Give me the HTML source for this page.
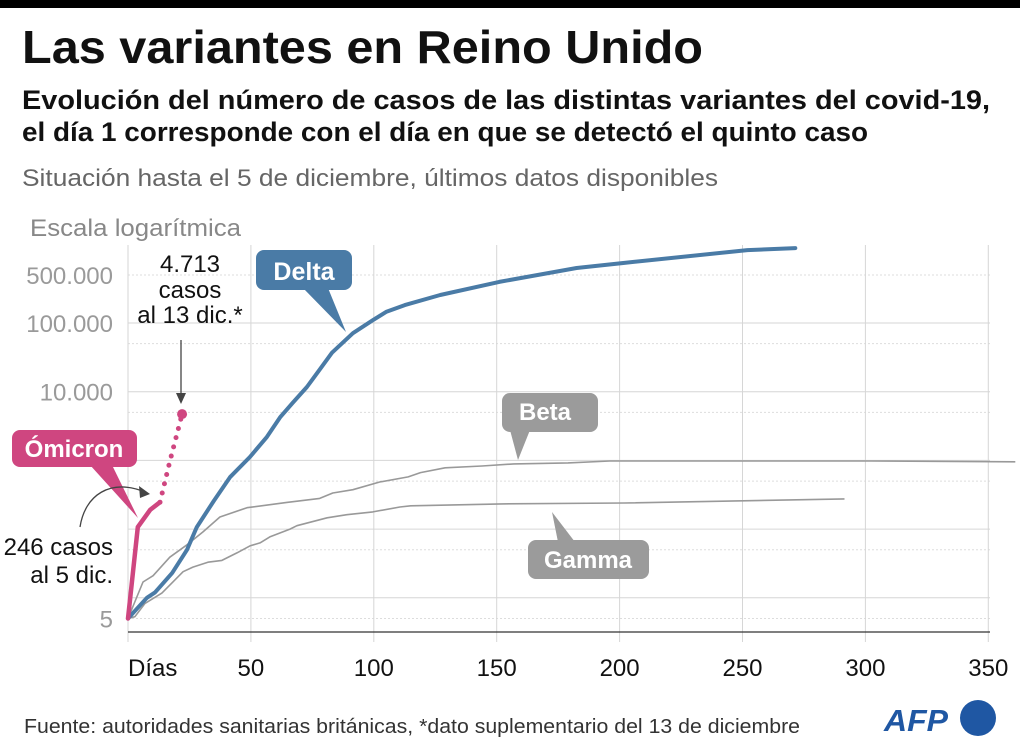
<!DOCTYPE html>
<html><head><meta charset="utf-8"><style>
body{margin:0;background:#fff;}
svg{display:block;font-family:"Liberation Sans",sans-serif;}
</style></head><body>
<svg id="chart" width="1020" height="748" viewBox="0 0 1020 748">
<rect x="0" y="0" width="1020" height="8" fill="#000"/>
<text x="22" y="63" font-size="46" font-weight="bold" fill="#111" textLength="681" lengthAdjust="spacingAndGlyphs">Las variantes en Reino Unido</text>
<text x="22" y="109" font-size="27" font-weight="bold" fill="#111" textLength="968" lengthAdjust="spacingAndGlyphs">Evolución del número de casos de las distintas variantes del covid-19,</text>
<text x="22" y="141" font-size="27" font-weight="bold" fill="#111" textLength="846" lengthAdjust="spacingAndGlyphs">el día 1 corresponde con el día en que se detectó el quinto caso</text>
<text x="22" y="186" font-size="24" fill="#666" textLength="696" lengthAdjust="spacingAndGlyphs">Situación hasta el 5 de diciembre, últimos datos disponibles</text>
<text x="30" y="236" font-size="24" fill="#888" textLength="211" lengthAdjust="spacingAndGlyphs">Escala logarítmica</text>
<g id="grid"></g>
<g id="axes"></g>
<g id="series"></g>
<g id="annotations">
  <rect x="256" y="250" width="96" height="40" rx="8" fill="#4a7ba6"/>
  <polygon points="303,288 328,288 346,332" fill="#4a7ba6"/>
  <text x="304" y="280" font-size="25" font-weight="bold" fill="#fff" text-anchor="middle">Delta</text>
  <rect x="502" y="393" width="96" height="39" rx="8" fill="#9b9b9b"/>
  <polygon points="510,430 530,430 518,460" fill="#9b9b9b"/>
  <text x="545" y="420" font-size="24" font-weight="bold" fill="#fff" text-anchor="middle">Beta</text>
  <rect x="528" y="540" width="121" height="39" rx="8" fill="#9b9b9b"/>
  <polygon points="558,542 575,542 552,512" fill="#9b9b9b"/>
  <text x="588" y="568" font-size="24" font-weight="bold" fill="#fff" text-anchor="middle">Gamma</text>
  <rect x="12" y="430" width="125" height="37" rx="8" fill="#cf4680"/>
  <polygon points="90,465 112,465 138,518" fill="#cf4680"/>
  <text x="74" y="457" font-size="24" font-weight="bold" fill="#fff" text-anchor="middle">Ómicron</text>
  <text x="113" y="555" font-size="24" fill="#111" text-anchor="end">246 casos</text>
  <text x="113" y="583" font-size="24" fill="#111" text-anchor="end">al 5 dic.</text>
  <path d="M80,527 C85,495 110,478 145,492" fill="none" stroke="#444" stroke-width="1.3"/>
  <polygon points="150,494 139,486 140,498" fill="#444"/>
  <text x="190" y="272" font-size="24" fill="#111" text-anchor="middle">4.713</text>
  <text x="190" y="298" font-size="24" fill="#111" text-anchor="middle">casos</text>
  <text x="190" y="323" font-size="24" fill="#111" text-anchor="middle">al 13 dic.*</text>
  <line x1="181" y1="340" x2="181" y2="396" stroke="#444" stroke-width="1.3"/>
  <polygon points="181,404 176,393 186,393" fill="#444"/>
</g>
<text x="24" y="733" font-size="20" fill="#333" textLength="776" lengthAdjust="spacingAndGlyphs">Fuente: autoridades sanitarias británicas, *dato suplementario del 13 de diciembre</text>
<text x="884" y="731" font-size="31" font-weight="bold" font-style="italic" fill="#1f57a3" textLength="64" lengthAdjust="spacingAndGlyphs">AFP</text>
<circle cx="978" cy="718" r="18" fill="#1f57a3"/>
</svg>
<script>
const xTicks = [0, 50, 100, 150, 200, 250, 300, 350];
const xTickLabels = ["Días", "50", "100", "150", "200", "250", "300", "350"];
const yDecades = [10, 100, 1000, 10000, 100000];
const yHalf = [5, 50, 500, 5000, 50000, 500000];
const yLabelValues = [500000, 100000, 10000, 5];
const yLabels = ["500.000", "100.000", "10.000", "5"];

const deltaDays = [0, 7.7, 11, 18, 24, 28, 35, 41.5, 49.6, 56.5, 62, 67, 72.8, 78, 83, 91.5, 99.6, 105, 112.6, 127, 151, 182.5, 201, 252, 271.5];
const deltaCases = [5, 10, 12, 23, 50, 107, 260, 570, 1120, 2200, 4300, 6900, 11700, 21000, 37000, 71000, 110000, 145000, 182000, 256000, 397000, 632000, 745000, 1150000, 1230000];
const betaDays = [0, 6.1, 10.2, 17, 24, 30.5, 37.4, 48.4, 64.6, 78, 83.3, 91.5, 102.4, 114, 119, 129, 144, 157, 179, 196, 302, 361];
const betaCases = [5, 17, 21, 39, 59, 91, 150, 205, 245, 280, 335, 375, 485, 575, 665, 780, 830, 890, 920, 980, 980, 955];
const gammaDays = [0, 2.8, 6.9, 13.8, 22.4, 26.4, 32.5, 38.2, 44.3, 49.6, 53.7, 57.7, 65.9, 68.7, 81, 89, 99.6, 110.6, 115, 152, 202, 291.5];
const gammaCases = [5, 5.3, 8.3, 11.7, 24, 28, 33, 35, 45, 57, 63, 77, 100, 112, 146, 162, 178, 210, 218, 233, 240, 275];
const omicronDays = [0, 4, 9, 13];
const omicronCases = [5, 107, 190, 246];
const omicronExtraDays = [13, 14.2, 17, 20, 22];
const omicronExtraCases = [246, 370, 960, 2500, 4713];

const NS = "http://www.w3.org/2000/svg";
const X0 = 128, PXDAY = 2.458, XEND = 990;
function xs(d){ return X0 + d * PXDAY; }
function ys(v){ return 323 + (5 - Math.log10(v)) * 68.7; }
function mk(tag, attrs, parent){
  const e = document.createElementNS(NS, tag);
  for (const k in attrs) e.setAttribute(k, attrs[k]);
  parent.appendChild(e);
  return e;
}
const grid = document.getElementById('grid');
const axes = document.getElementById('axes');
const series = document.getElementById('series');

yHalf.forEach(v => {
  const l = mk('line', {x1: X0, x2: XEND, y1: ys(v), y2: ys(v), stroke: '#ddd', 'stroke-width': 1, 'stroke-dasharray': '2,2'}, grid);
  
  
});
yDecades.forEach(v => {
  const l = mk('line', {x1: X0, x2: XEND, y1: ys(v), y2: ys(v), stroke: '#d6d6d6', 'stroke-width': 1}, grid);
  
  
});
xTicks.forEach((d, i) => {
  const l = mk('line', {x1: xs(d), x2: xs(d), y1: 245, y2: 642, stroke: '#d6d6d6', 'stroke-width': 1}, grid);
  
  
  const t = mk('text', {x: xs(d), y: 676, 'font-size': 24, fill: '#111', 'text-anchor': i === 0 ? 'start' : 'middle'}, axes);
  t.textContent = xTickLabels[i];
  
  
});
const base = mk('line', {x1: X0, x2: XEND, y1: 632, y2: 632, stroke: '#333', 'stroke-width': 1.2}, axes);


yLabelValues.forEach((v, i) => {
  const t = mk('text', {x: 113, y: ys(v) + 9, 'font-size': 24, fill: '#9a9a9a', 'text-anchor': 'end'}, axes);
  t.textContent = yLabels[i];
  
  
});

function pathD(days, vals){
  return days.map((d, i) => (i ? 'L' : 'M') + xs(d).toFixed(1) + ',' + ys(vals[i]).toFixed(1)).join(' ');
}
const gammaLine = mk('path', {d: pathD(gammaDays, gammaCases), fill: 'none', stroke: '#999', 'stroke-width': 1.6, 'stroke-linejoin': 'round'}, series);


const betaLine = mk('path', {d: pathD(betaDays, betaCases), fill: 'none', stroke: '#999', 'stroke-width': 1.6, 'stroke-linejoin': 'round'}, series);


const deltaLine = mk('path', {d: pathD(deltaDays, deltaCases), fill: 'none', stroke: '#4a7ba6', 'stroke-width': 4, 'stroke-linejoin': 'round', 'stroke-linecap': 'round'}, series);


const omiExtra = mk('path', {d: pathD(omicronExtraDays, omicronExtraCases), fill: 'none', stroke: '#cf4680', 'stroke-width': 5, 'stroke-dasharray': '0,9.5', 'stroke-linecap': 'round'}, series);


const omiLine = mk('path', {d: pathD(omicronDays, omicronCases), fill: 'none', stroke: '#cf4680', 'stroke-width': 4.5, 'stroke-linejoin': 'round', 'stroke-linecap': 'round'}, series);


const li = omicronExtraDays.length - 1;
const omiDot = mk('circle', {cx: xs(omicronExtraDays[li]), cy: ys(omicronExtraCases[li]), r: 5, fill: '#cf4680'}, series);


</script>
</body></html>
